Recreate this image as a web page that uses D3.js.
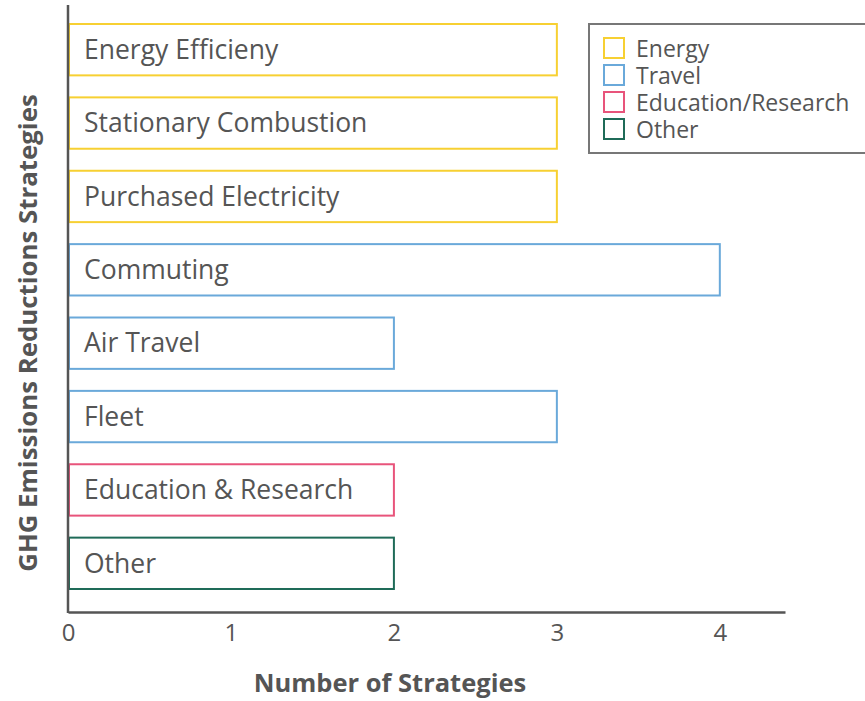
<!DOCTYPE html>
<html><head><meta charset="utf-8">
<script src="https://cdn.jsdelivr.net/npm/d3@7"></script>
<style>body{margin:0;background:#fff}svg{display:block}</style>
</head><body>
<script>
const categories = ["Energy Efficieny","Stationary Combustion","Purchased Electricity","Commuting","Air Travel","Fleet","Education & Research","Other"];
const values = [3,3,3,4,2,3,2,2];
const groups = ["Energy","Energy","Energy","Travel","Travel","Travel","Education/Research","Other"];
const legendLabels = ["Energy","Travel","Education/Research","Other"];
const legendColors = ["#F7D032","#6AA9DA","#E8547B","#1F6B58"];
const xTicks = [0,1,2,3,4];

const W=865,H=701;
const svg=d3.select("body").append("svg").attr("width",W).attr("height",H);
const font="'Open Sans', 'Noto Sans', sans-serif";
const x=d3.scaleLinear().domain([0,4.4]).range([68,785]);
const y=d3.scaleBand().domain(categories).range([13,600]).padding(0.3).paddingOuter(0.15);
const color=d3.scaleOrdinal().domain(legendLabels).range(legendColors);

svg.selectAll("rect.bar").data(categories).enter().append("rect").attr("class","bar")
  .attr("x",x(0)+1).attr("y",d=>y(d))
  .attr("width",(d,i)=>x(values[i])-x(0)-1).attr("height",y.bandwidth())
  .attr("fill","none").attr("stroke",(d,i)=>color(groups[i])).attr("stroke-width",2);

svg.selectAll("text.lbl").data(categories).enter().append("text")
  .attr("x",84).attr("y",d=>y(d)+y.bandwidth()/2).attr("dy","0.35em")
  .attr("font-family",font).attr("font-size",26.5).attr("fill","#555").text(d=>d);

// axes
const xAxis=d3.axisBottom(x).tickValues(xTicks).tickSize(0).tickPadding(12).tickFormat(d3.format("d"));
const gx=svg.append("g").attr("transform","translate(0,612)").call(xAxis);
gx.select(".domain").attr("stroke","#555").attr("stroke-width",2.5);
gx.selectAll("text").attr("font-family",font).attr("font-size",24).attr("fill","#555");
svg.append("line").attr("x1",68).attr("x2",68).attr("y1",5).attr("y2",613).attr("stroke","#555").attr("stroke-width",2.5);

svg.append("text").attr("x",390).attr("y",683).attr("dy","0.35em").attr("text-anchor","middle")
  .attr("font-family",font).attr("font-weight","bold").attr("font-size",25.5).attr("fill","#555").text("Number of Strategies");
svg.append("text").attr("transform","translate(28,333) rotate(-90)").attr("dy","0.35em").attr("text-anchor","middle")
  .attr("font-family",font).attr("font-weight","bold").attr("font-size",25.8).attr("fill","#555").text("GHG Emissions Reductions Strategies");

// legend
const lg=svg.append("g");
lg.append("rect").attr("x",589).attr("y",24).attr("width",290).attr("height",129).attr("fill","#fff").attr("stroke","#777").attr("stroke-width",2);
const li=lg.selectAll("g.it").data(legendLabels).enter().append("g").attr("transform",(d,i)=>`translate(604,${38+i*27})`);
li.append("rect").attr("width",20).attr("height",20).attr("fill","none").attr("stroke",d=>color(d)).attr("stroke-width",2);
li.append("text").attr("x",32).attr("y",11).attr("dy","0.35em").attr("font-family",font).attr("font-size",23).attr("fill","#555").text(d=>d);
</script>
</body></html>
